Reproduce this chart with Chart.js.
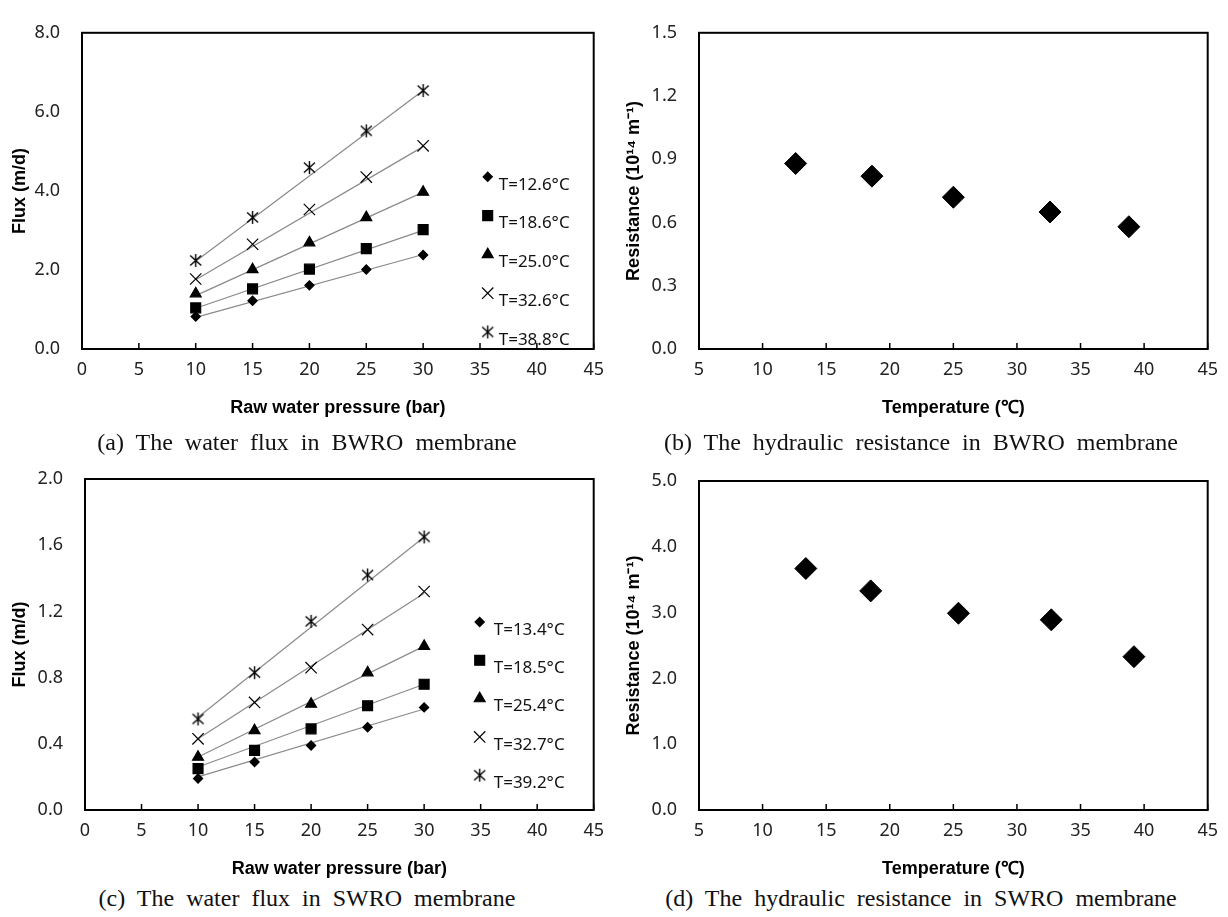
<!DOCTYPE html>
<html>
<head>
<meta charset="utf-8">
<script src="https://cdn.jsdelivr.net/npm/chart.js@4.4.1/dist/chart.umd.min.js"></script>
<style>
  body { margin: 0; background: #fff; }
  #page { position: relative; width: 1228px; height: 917px; }
  canvas { position: absolute; }
  .caption {
    position: absolute;
    width: 614px;
    text-align: center;
    font-family: "Liberation Serif", "DejaVu Serif", serif;
    font-size: 24px;
    word-spacing: 6px;
    color: #111;
    line-height: 26px;
  }
</style>
</head>
<body>
<div id="page">
  <canvas id="chart-a" width="614" height="440" style="left:0;top:0"></canvas>
  <canvas id="chart-b" width="614" height="440" style="left:614px;top:0"></canvas>
  <canvas id="chart-c" width="614" height="440" style="left:0;top:440px"></canvas>
  <canvas id="chart-d" width="614" height="440" style="left:614px;top:440px"></canvas>
  <div class="caption" style="left:0;top:429px">(a) The water flux in BWRO membrane</div>
  <div class="caption" style="left:614px;top:429px">(b) The hydraulic resistance in BWRO membrane</div>
  <div class="caption" style="left:0;top:885px">(c) The water flux in SWRO membrane</div>
  <div class="caption" style="left:614px;top:885px">(d) The hydraulic resistance in SWRO membrane</div>
</div>
<script>
// pressures used in the flux tests (bar)
const pressures = [10, 15, 20, 25, 30];
const fitRange = [10, 30];

// (a) BWRO flux, m/d
const bwroLabels = ["T=12.6°C", "T=18.6°C", "T=25.0°C", "T=32.6°C", "T=38.8°C"];
const bwroFlux126 = [0.82, 1.22, 1.61, 2.01, 2.38];
const bwroFlux186 = [1.04, 1.52, 2.02, 2.54, 3.02];
const bwroFlux250 = [1.40, 2.01, 2.69, 3.33, 3.97];
const bwroFlux326 = [1.77, 2.65, 3.53, 4.35, 5.14];
const bwroFlux388 = [2.24, 3.33, 4.59, 5.52, 6.54];
// trend line ends at 10 and 30 bar
const bwroFitStart = [0.80, 1.03, 1.35, 1.75, 2.22];
const bwroFitEnd = [2.39, 3.00, 3.97, 5.12, 6.54];

// (c) SWRO flux, m/d
const swroLabels = ["T=13.4°C", "T=18.5°C", "T=25.4°C", "T=32.7°C", "T=39.2°C"];
const swroFlux134 = [0.19, 0.29, 0.39, 0.50, 0.62];
const swroFlux185 = [0.25, 0.36, 0.49, 0.63, 0.76];
const swroFlux254 = [0.32, 0.48, 0.64, 0.83, 0.99];
const swroFlux327 = [0.43, 0.65, 0.86, 1.09, 1.32];
const swroFlux392 = [0.55, 0.83, 1.14, 1.42, 1.65];
const swroFitStart = [0.20, 0.26, 0.32, 0.43, 0.56];
const swroFitEnd = [0.61, 0.76, 0.99, 1.31, 1.65];

// (b) and (d) hydraulic resistance, 10^14 1/m
const bwroTemps = [12.6, 18.6, 25.0, 32.6, 38.8];
const bwroResistance = [0.88, 0.82, 0.72, 0.65, 0.58];
const swroTemps = [13.4, 18.5, 25.4, 32.7, 39.2];
const swroResistance = [3.67, 3.33, 2.99, 2.89, 2.33];

const tickFont = { family: "'Noto Sans', sans-serif", size: 18 };
const titleFont = { family: "'Liberation Sans', Arial, sans-serif", size: 18, weight: "bold" };
const lineGray = "#8a8a8a";

// asterisk-like marker: X with a vertical bar
function starMarker() {
  const c = document.createElement("canvas");
  c.width = 15;
  c.height = 15;
  const g = c.getContext("2d");
  g.strokeStyle = "#000";
  g.lineWidth = 1.4;
  g.beginPath();
  g.moveTo(2, 2.5); g.lineTo(13, 12.5);
  g.moveTo(13, 2.5); g.lineTo(2, 12.5);
  g.moveTo(7.5, 1); g.lineTo(7.5, 14);
  g.stroke();
  return c;
}

const markers = [
  { pointStyle: "rectRot", pointRadius: 4.6 },
  { pointStyle: "rect", pointRadius: 7 },
  { pointStyle: "triangle", pointRadius: 6.3 },
  { pointStyle: "crossRot", pointRadius: 8 },
  { pointStyle: starMarker(), pointRadius: 7 }
];

function toPoints(xs, ys) {
  return xs.map((x, i) => ({ x, y: ys[i] }));
}

function fluxDatasets(labels, series, fitStart, fitEnd) {
  const pts = series.map((ys, i) => ({
    label: labels[i],
    data: toPoints(pressures, ys),
    pointStyle: markers[i].pointStyle,
    pointRadius: markers[i].pointRadius,
    pointHoverRadius: markers[i].pointRadius,
    backgroundColor: "#000",
    borderColor: "#000",
    borderWidth: 1.2,
    isMarker: true
  }));
  const fits = fitStart.map((y0, i) => ({
    label: "fit " + labels[i],
    data: toPoints(fitRange, [y0, fitEnd[i]]),
    showLine: true,
    pointRadius: 0,
    borderColor: lineGray,
    borderWidth: 1.2
  }));
  return pts.concat(fits);
}

// black frame around the plot area and inward ticks on the x axis
const frame = {
  id: "frame",
  afterDraw(chart) {
    const { ctx, chartArea } = chart;
    const xs = chart.scales.x;
    ctx.save();
    ctx.strokeStyle = "#000";
    ctx.lineWidth = 1.5;
    ctx.beginPath();
    xs.ticks.forEach(t => {
      const px = xs.getPixelForValue(t.value);
      ctx.moveTo(px, chartArea.bottom);
      ctx.lineTo(px, chartArea.bottom - 6);
    });
    ctx.stroke();
    ctx.lineWidth = 2;
    ctx.strokeRect(chartArea.left, chartArea.top, chartArea.right - chartArea.left, chartArea.bottom - chartArea.top);
    ctx.restore();
  }
};

// legend drawn inside the plot box, right side
const insideLegend = {
  id: "insideLegend",
  afterDatasetsDraw(chart, args, opts) {
    if (!opts.show) return;
    const { ctx, chartArea } = chart;
    const items = chart.data.datasets.filter(d => d.isMarker);
    ctx.save();
    ctx.fillStyle = "#000";
    ctx.strokeStyle = "#000";
    ctx.lineWidth = 1.2;
    items.forEach((ds, i) => {
      const mx = chartArea.right - opts.markerRight;
      const my = chartArea.top + opts.top + i * opts.gap;
      Chart.helpers.drawPoint(ctx, {
        pointStyle: ds.pointStyle,
        radius: ds.pointRadius,
        rotation: 0,
        borderWidth: 1.2
      }, mx, my);
      ctx.fillStyle = "#111";
      ctx.font = "17px 'Noto Sans', sans-serif";
      ctx.textBaseline = "middle";
      ctx.textAlign = "left";
      ctx.fillText(ds.label, chartArea.right - opts.textRight, my + 8);
      ctx.fillStyle = "#000";
    });
    ctx.restore();
  }
};

function makeChart(id, cfg) {
  const ctx = document.getElementById(id).getContext("2d");
  return new Chart(ctx, {
    type: "scatter",
    data: { datasets: cfg.datasets },
    options: {
      responsive: false,
      animation: false,
      devicePixelRatio: 1,
      layout: { padding: { left: 0, right: 16, top: cfg.top, bottom: cfg.bottom } },
      plugins: {
        legend: { display: false },
        tooltip: { enabled: false },
        insideLegend: cfg.legend || { show: false }
      },
      scales: {
        x: {
          type: "linear",
          min: cfg.xMin,
          max: 45,
          afterFit: s => { s.height = 70; },
          grid: { display: false, drawTicks: false },
          border: { display: false },
          ticks: { stepSize: 5, padding: 10, color: "#222", font: tickFont },
          title: { display: true, text: cfg.xTitle, color: "#000", font: titleFont, padding: { top: 0, bottom: 0 } }
        },
        y: {
          type: "linear",
          min: 0,
          max: cfg.yMax,
          afterFit: s => { s.width = cfg.left; },
          grid: { display: false, drawTicks: false },
          border: { display: false },
          ticks: {
            stepSize: cfg.yStep,
            padding: 22,
            color: "#222",
            font: tickFont,
            callback: v => v.toFixed(1)
          },
          title: { display: true, text: cfg.yTitle, color: "#000", font: titleFont, padding: { top: 9, bottom: 0 } }
        }
      }
    },
    plugins: [frame, insideLegend]
  });
}

function resistanceSet(temps, values) {
  return [{
    label: "Resistance",
    data: toPoints(temps, values),
    pointStyle: "rectRot",
    pointRadius: 11,
    pointHoverRadius: 11,
    backgroundColor: "#000",
    borderColor: "#000",
    borderWidth: 1
  }];
}

makeChart("chart-a", {
  datasets: fluxDatasets(bwroLabels, [bwroFlux126, bwroFlux186, bwroFlux250, bwroFlux326, bwroFlux388], bwroFitStart, bwroFitEnd),
  top: 16, bottom: 21, left: 82,
  xMin: 0, yMax: 8, yStep: 2,
  xTitle: "Raw water pressure (bar)", yTitle: "Flux (m/d)",
  legend: { show: true, markerRight: 106, textRight: 95, top: 144, gap: 38.8 }
});

makeChart("chart-b", {
  datasets: resistanceSet(bwroTemps, bwroResistance),
  top: 16, bottom: 21, left: 85,
  xMin: 5, yMax: 1.5, yStep: 0.3,
  xTitle: "Temperature (℃)", yTitle: "Resistance (10¹⁴ m⁻¹)"
});

makeChart("chart-c", {
  datasets: fluxDatasets(swroLabels, [swroFlux134, swroFlux185, swroFlux254, swroFlux327, swroFlux392], swroFitStart, swroFitEnd),
  top: 39, bottom: 0, left: 85,
  xMin: 0, yMax: 2, yStep: 0.4,
  xTitle: "Raw water pressure (bar)", yTitle: "Flux (m/d)",
  legend: { show: true, markerRight: 114, textRight: 100, top: 143, gap: 38.3 }
});

makeChart("chart-d", {
  datasets: resistanceSet(swroTemps, swroResistance),
  top: 41, bottom: 0, left: 85,
  xMin: 5, yMax: 5, yStep: 1,
  xTitle: "Temperature (℃)", yTitle: "Resistance (10¹⁴ m⁻¹)"
});
</script>
</body>
</html>
